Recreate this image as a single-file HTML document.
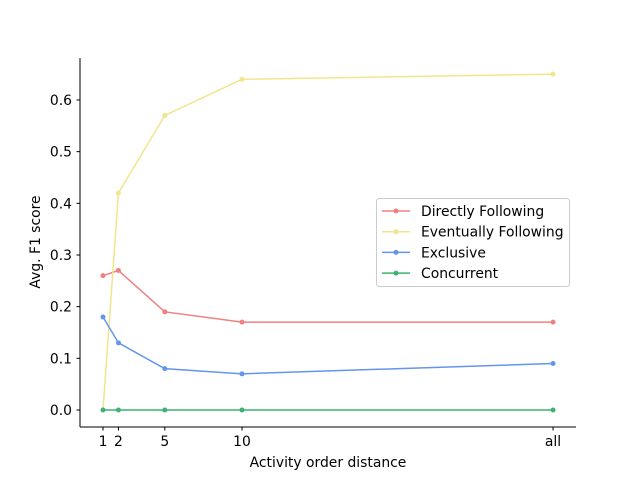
<!DOCTYPE html>
<html><head><meta charset="utf-8"><style>
body{margin:0;background:#fff;font-family:"Liberation Sans","DejaVu Sans",sans-serif;}
svg text{font-family:"DejaVu Sans","Liberation Sans",sans-serif;font-size:13.9px;fill:#000;}
</style></head><body>
<svg id="chart" width="640" height="480" xmlns="http://www.w3.org/2000/svg"></svg>
<script>
const categories = ["1","2","5","10","all"];
const xValues = [1,2,5,10,30.14];
const directlyFollowing = [0.26,0.27,0.19,0.17,0.17];
const eventuallyFollowing = [0.0,0.42,0.57,0.64,0.65];
const exclusive = [0.18,0.13,0.08,0.07,0.09];
const concurrent = [0.0,0.0,0.0,0.0,0.0];
const yTicks = [0.0,0.1,0.2,0.3,0.4,0.5,0.6];
const seriesNames = ["Directly Following","Eventually Following","Exclusive","Concurrent"];

const svg = document.getElementById('chart');
const NS = 'http://www.w3.org/2000/svg';
const xs = v => 103 + (v - 1) * 15.444;
const ys = v => 410 - v * 516.7;
function mk(tag, attrs, parent){const e=document.createElementNS(NS,tag);for(const k in attrs)e.setAttribute(k,attrs[k]);(parent||svg).appendChild(e);return e;}

const ax = mk('g',{});


const yl = mk('line',{x1:80,y1:58,x2:80,y2:427,stroke:'#000','stroke-width':1},ax);


const xl = mk('line',{x1:80,y1:427,x2:576,y2:427,stroke:'#000','stroke-width':1},ax);



yTicks.forEach(t=>{
  const y=ys(t);
  const tk=mk('line',{x1:76.5,y1:y,x2:80,y2:y,stroke:'#000'},ax);
  
  
  const tx=mk('text',{x:72,y:y+5,'text-anchor':'end'},ax);
  tx.textContent=t.toFixed(1);
  
  
});
categories.forEach((c,i)=>{
  const x=xs(xValues[i]);
  const tk=mk('line',{x1:x,y1:427,x2:x,y2:430.5,stroke:'#000'},ax);
  
  
  const tx=mk('text',{x:x,y:446,'text-anchor':'middle'},ax);
  tx.textContent=c;
  
  
});
const xt=mk('text',{x:328,y:467,'text-anchor':'middle'});
xt.textContent='Activity order distance';


const yt=mk('text',{x:0,y:0,'text-anchor':'middle',transform:'translate(40,242) rotate(-90)'});
yt.textContent='Avg. F1 score';



const allSeries=[directlyFollowing,eventuallyFollowing,exclusive,concurrent];
const colors=['#f08080','#f0e68c','#6495ed','#3cb371'];
const slugs=['directly-following','eventually-following','exclusive','concurrent'];
allSeries.forEach((s,si)=>{
  const g=mk('g',{});
  
  
  const pts=s.map((v,i)=>xs(xValues[i])+','+ys(v)).join(' ');
  const pl=mk('polyline',{points:pts,fill:'none',stroke:colors[si],'stroke-width':1.5},g);
  
  
  s.forEach((v,i)=>{
    const c=mk('circle',{cx:xs(xValues[i]),cy:ys(v),r:2.5,fill:colors[si]},g);
    
    
  });
});

const lg=mk('g',{});


mk('rect',{x:376.5,y:198.5,width:193,height:88,rx:3,fill:'#fff','fill-opacity':0.8,stroke:'#ccc'},lg);
seriesNames.forEach((n,i)=>{
  const y=211+i*20.7;
  const e=mk('g',{},lg);
  
  
  mk('line',{x1:382,y1:y,x2:410,y2:y,stroke:colors[i],'stroke-width':1.5},e);
  mk('circle',{cx:396,cy:y,r:2.5,fill:colors[i]},e);
  const t=mk('text',{x:421,y:y+5},e);
  t.textContent=n;
});
</script>
</body></html>
